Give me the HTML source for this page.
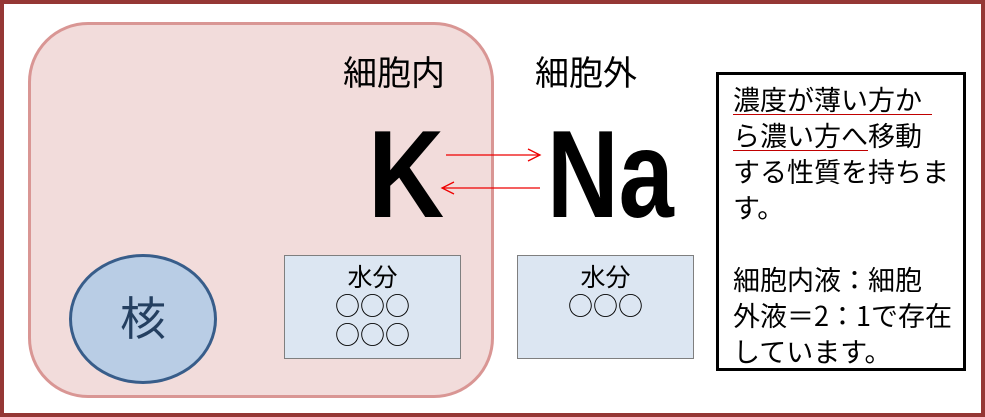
<!DOCTYPE html>
<html><head><meta charset="utf-8"><style>
body{margin:0;width:985px;height:417px;overflow:hidden;background:#fff;font-family:"Liberation Sans","Noto Sans CJK JP",sans-serif;}
.a{position:absolute;}
.j{font-family:"Noto Sans CJK JP",sans-serif;}
</style></head><body>
<div class="a" style="left:0;top:0;width:977px;height:409px;border:4px solid #953735;"></div>
<div class="a" style="left:28px;top:22px;width:460px;height:370px;background:#f2dcdb;border:3px solid #d99694;border-radius:60px;"></div>
<div class="a" style="left:69px;top:254px;width:142px;height:124px;background:#b9cde5;border:3px solid #385d8a;border-radius:50%;"></div>
<div class="a j" style="left:69px;top:288px;width:148px;text-align:center;font-size:46px;line-height:56px;color:#243f60;">核</div>
<div class="a j" style="left:343px;top:48px;font-size:34px;line-height:46px;">細胞内</div>
<div class="a j" style="left:535px;top:48px;font-size:34px;line-height:46px;">細胞外</div>
<div class="a" style="left:368px;top:105px;font-size:124px;font-weight:bold;line-height:140px;transform:scaleX(0.85);transform-origin:left;">K</div>
<div class="a" style="left:547px;top:105px;font-size:124px;font-weight:bold;line-height:140px;transform:scaleX(0.8);transform-origin:left;">Na</div>
<svg class="a" style="left:0;top:0" width="985" height="417">
<line x1="446" y1="155" x2="540" y2="155" stroke="#e00" stroke-width="1.3"/>
<polyline points="528,149 540,155 528,161" fill="none" stroke="#e00" stroke-width="1.3"/>
<line x1="442" y1="188" x2="540" y2="188" stroke="#e00" stroke-width="1.3"/>
<polyline points="454,182 442,188 454,194" fill="none" stroke="#e00" stroke-width="1.3"/>
</svg>
<div class="a j" style="left:284px;top:255px;width:177px;height:104px;background:#dce6f2;border:1.5px solid #7f7f7f;text-align:center;font-size:25px;line-height:29px;padding-top:6px;box-sizing:border-box;overflow:hidden;">水分<br>○○○<br>○○○</div>
<div class="a j" style="left:517px;top:255px;width:177px;height:104px;background:#dce6f2;border:1.5px solid #7f7f7f;text-align:center;font-size:25px;line-height:29px;padding-top:6px;box-sizing:border-box;">水分<br>○○○</div>
<div class="a" style="left:716px;top:72px;width:250px;height:299px;border:3px solid #000;box-sizing:border-box;background:#fff;"></div>
<div class="a j" style="left:733px;top:81px;font-size:27px;line-height:36px;width:232px;white-space:nowrap;">濃度が薄い方か<br>ら濃い方へ移動<br>する性質を持ちま<br>す。<br><span style="line-height:22px;">&nbsp;</span><br>細胞内液：細胞<br>外液＝2：1で存在<br>しています。</div>
<div class="a" style="left:733px;top:114px;width:199px;height:1px;background:#c00000;"></div>
<div class="a" style="left:733px;top:150px;width:135px;height:1px;background:#c00000;"></div>
</body></html>
